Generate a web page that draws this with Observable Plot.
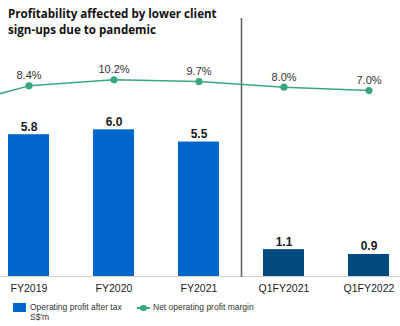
<!DOCTYPE html>
<html>
<head>
<meta charset="utf-8">
<script src="https://cdn.jsdelivr.net/npm/d3@7"></script>
<script src="https://cdn.jsdelivr.net/npm/@observablehq/plot@0.6"></script>
<style>
  html, body { margin: 0; padding: 0; background: #fff; }
  #wrap { position: relative; width: 400px; height: 326px; overflow: hidden; font-family: "Liberation Sans", Arial, sans-serif; }
  #chart { position: absolute; left: 0; top: 0; }
  #title { position: absolute; left: 8px; top: 6px; font-family: "Open Sans", sans-serif; font-weight: 700; font-size: 11.6px; line-height: 15.5px; color: #111; }
  #title div { white-space: nowrap; }
  #legend { position: absolute; left: 0; top: 298px; width: 400px; font-size: 8.5px; color: #333; }
  .sw { position: absolute; }
</style>
</head>
<body>
<div id="wrap">
  <div id="chart"></div>
  <div id="title"><div>Profitability affected by lower client</div><div>sign-ups due to pandemic</div></div>
  <div id="legend"></div>
</div>
<script>
// ---- data ----
const categories = ["FY2019", "FY2020", "FY2021", "Q1FY2021", "Q1FY2022"];
const profit = [5.8, 6.0, 5.5, 1.1, 0.9];            // Operating profit after tax, S$'m
const periodType = ["FY", "FY", "FY", "Q1", "Q1"];
const margin = [8.4, 10.2, 9.7, 8.0, 7.0];            // Net operating profit margin, %
// earlier period, cut off at the left edge of the picture (line only)
const earlierCategory = "FY2018";
const earlierMargin = 1.6;

const barLabels = profit.map(v => v.toFixed(1));
const marginLabels = margin.map(v => v.toFixed(1) + "%");
const legendItems = ["Operating profit after tax", "S$'m", "Net operating profit margin"];

// ---- styles ----
const colorFY = "#0066CC";
const colorQ1 = "#014A80";
const colorLine = "#3AA87D";

// ---- layout ----
const W = 400, H = 296;
const xDomain = [earlierCategory, ...categories];
const xPadding = 0.5176;
const xRange = [-120.8, 433.2];
const xStep = (xRange[1] - xRange[0]) / (xDomain.length + xPadding);
const yMax = 11.29;
// secondary (percentage) axis mapped into bar units
const pctToY = p => (162.6 + 3.34 * p) / 24.45;

const bars = categories.map((c, i) => ({cat: c, value: profit[i], type: periodType[i], label: barLabels[i]}));
const pts = categories.map((c, i) => ({cat: c, pct: margin[i], label: marginLabels[i]}));
const linePts = [{cat: earlierCategory, pct: earlierMargin}, ...pts];

const chart = Plot.plot({
  width: W, height: H,
  marginTop: 0, marginBottom: 20, marginLeft: 0, marginRight: 0,
  style: {fontFamily: "'Liberation Sans', Arial, sans-serif", background: "transparent", overflow: "hidden"},
  x: {domain: xDomain, range: xRange, padding: xPadding, align: 0.5, label: null, tickSize: 0, tickPadding: 8,
      tickFormat: d => categories.includes(d) ? d : ""},
  y: {domain: [0, yMax], axis: null},
  color: {domain: ["FY", "Q1"], range: [colorFY, colorQ1]},
  marks: [
    Plot.barY(bars, {x: "cat", y: "value", fill: "type"}),
    Plot.ruleY([0], {stroke: "#cfcfcf", strokeWidth: 1.2}),
    Plot.ruleX(["Q1FY2021"], {dx: -xStep / 2, stroke: "#666", strokeWidth: 1.6, insetTop: 18, insetBottom: -1}),
    Plot.text(bars, {x: "cat", y: "value", text: "label", lineAnchor: "bottom", dy: -4, fontSize: 12, fontWeight: "bold", fill: "#1a1a1a"}),
    Plot.line(linePts, {x: "cat", y: d => pctToY(d.pct), stroke: colorLine, strokeWidth: 1.5}),
    Plot.dot(pts, {x: "cat", y: d => pctToY(d.pct), r: 3.6, fill: colorLine}),
    Plot.text(pts, {x: "cat", y: d => pctToY(d.pct), text: "label", lineAnchor: "bottom", dy: -6.5, fontSize: 11, fill: "#333"})
  ]
});
const xa = chart.querySelector("g[aria-label='x-axis tick label']") || chart.querySelector("g[aria-label='x-axis']");
if (xa) {
  xa.setAttribute("font-size", "10.5"); xa.setAttribute("fill", "#222");
  xa.querySelectorAll("text").forEach(t => { if (!t.textContent) t.remove(); });
}
document.getElementById("chart").appendChild(chart);

// ---- legend ----
const lg = document.getElementById("legend");
lg.innerHTML = `
  <div class="sw" style="left:13px;top:5px;width:13px;height:8.5px;background:${colorFY}"></div>
  <div class="sw" style="left:30px;top:4px;line-height:10px;">${legendItems[0]}<br>${legendItems[1]}</div>
  <div class="sw" style="left:137px;top:9px;width:13px;height:1.5px;background:${colorLine}"></div>
  <div class="sw" style="left:140px;top:6.5px;width:6.5px;height:6.5px;border-radius:50%;background:${colorLine}"></div>
  <div class="sw" style="left:153px;top:4px;line-height:10px;">${legendItems[2]}</div>`;
</script>
</body>
</html>
